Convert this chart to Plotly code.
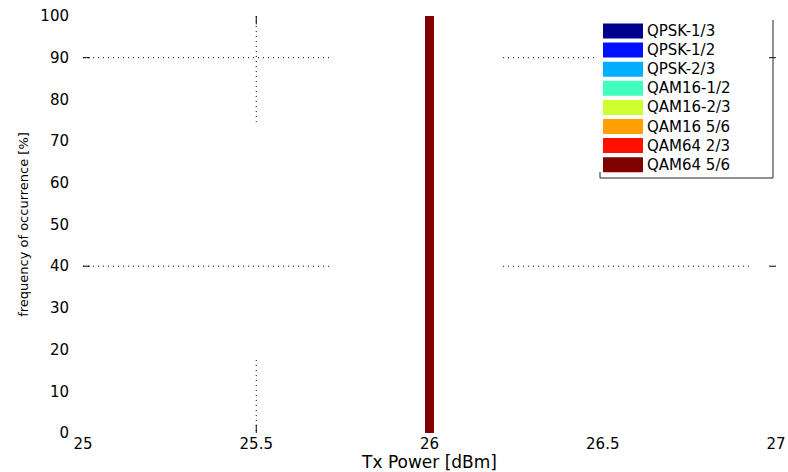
import plotly.graph_objects as go

# ---- data ----
tx_power = [26]
series_names = ["QPSK-1/3", "QPSK-1/2", "QPSK-2/3", "QAM16-1/2",
                "QAM16-2/3", "QAM16 5/6", "QAM64 2/3", "QAM64 5/6"]
series_values = [[0], [0], [0], [0], [0], [0], [0], [100]]
series_colors = ["#00008F", "#0010FF", "#00AFFF", "#40FFBF",
                 "#CFFF30", "#FF9F00", "#FF1000", "#800000"]
x_ticks = [25, 25.5, 26, 26.5, 27]
x_tick_labels = ["25", "25.5", "26", "26.5", "27"]
y_ticks = [0, 10, 20, 30, 40, 50, 60, 70, 80, 90, 100]

FONT = "DejaVu Sans, Liberation Sans, sans-serif"

# plot area geometry (pixels)
W, H = 788, 472
ML, MR, MT, MB = 83, 12, 16, 39
PW, PH = W - ML - MR, H - MT - MB

def px(xp):
    return (xp - ML) / PW
def py(yp):
    return (H - MB - yp) / PH

fig = go.Figure()
for name, vals, col in zip(series_names, series_values, series_colors):
    fig.add_trace(go.Bar(x=tx_power, y=vals, name=name, marker_color=col,
                         marker_line_width=0, width=0.024, showlegend=False))

shapes = []
dot = dict(color="black", width=1, dash="1px,4px")
solid = dict(color="black", width=1)
# partially visible dotted grid lines (as in the reference rendering)
for yv in (90, 40):
    shapes.append(dict(type="line", xref="x", yref="y", x0=25.0, x1=25.718, y0=yv, y1=yv, line=dot))
    shapes.append(dict(type="line", xref="x", yref="y", x0=25.0, x1=25.02, y0=yv, y1=yv, line=solid))
    shapes.append(dict(type="line", xref="x", yref="y", x0=26.98, x1=27.0, y0=yv, y1=yv, line=solid))
shapes.append(dict(type="line", xref="x", yref="y", x0=26.212, x1=26.93, y0=40, y1=40, line=dot))
shapes.append(dict(type="line", xref="x", yref="y", x0=26.212, x1=26.48, y0=90, y1=90, line=dot))
shapes.append(dict(type="line", xref="x", yref="y", x0=25.5, x1=25.5, y0=100, y1=74.6, line=dot))
shapes.append(dict(type="line", xref="x", yref="y", x0=25.5, x1=25.5, y0=100, y1=98, line=solid))
shapes.append(dict(type="line", xref="x", yref="y", x0=25.5, x1=25.5, y0=17.5, y1=0, line=dot))
shapes.append(dict(type="line", xref="x", yref="y", x0=25.5, x1=25.5, y0=0, y1=2, line=solid))

# custom legend (MATLAB-like large swatches)
annotations = []
row0, step = 31, 19.1
for i, (name, col) in enumerate(zip(series_names, series_colors)):
    yc = row0 + i * step
    shapes.append(dict(type="rect", xref="paper", yref="paper",
                       x0=px(603), x1=px(643), y0=py(yc - 7.5), y1=py(yc + 7.5),
                       fillcolor=col, line=dict(width=0)))
    annotations.append(dict(xref="paper", yref="paper", x=px(646), y=py(yc),
                            text=name, showarrow=False, xanchor="left", yanchor="middle",
                            borderpad=0,
                            font=dict(family=FONT, size=15, color="black")))
border = dict(color="#222222", width=1)
shapes.append(dict(type="line", xref="paper", yref="paper", x0=px(773), x1=px(773), y0=py(20), y1=py(178), line=border))
shapes.append(dict(type="line", xref="paper", yref="paper", x0=px(600), x1=px(773), y0=py(178), y1=py(178), line=border))
shapes.append(dict(type="line", xref="paper", yref="paper", x0=px(600), x1=px(600), y0=py(172), y1=py(178), line=border))

fig.update_layout(
    width=W, height=H,
    margin=dict(l=ML, r=MR, t=MT, b=MB),
    paper_bgcolor="white", plot_bgcolor="white",
    barmode="stack",
    font=dict(family=FONT, size=15, color="black"),
    shapes=shapes, annotations=annotations,
    xaxis=dict(range=[25, 27], tickvals=x_ticks, ticktext=x_tick_labels,
               showgrid=False, zeroline=False, showline=False, ticks="",
               automargin=False,
               tickfont=dict(size=15), ticklabelstandoff=0,
               title=dict(text="Tx Power [dBm]", font=dict(size=17), standoff=0)),
    yaxis=dict(range=[0, 100], tickvals=y_ticks,
               showgrid=False, zeroline=False, showline=False, ticks="",
               automargin=False,
               tickfont=dict(size=15), ticklabelstandoff=13,
               title=dict(text="frequency of occurrence [%]", font=dict(size=13), standoff=8)),
)

fig.write_html("out.html")
